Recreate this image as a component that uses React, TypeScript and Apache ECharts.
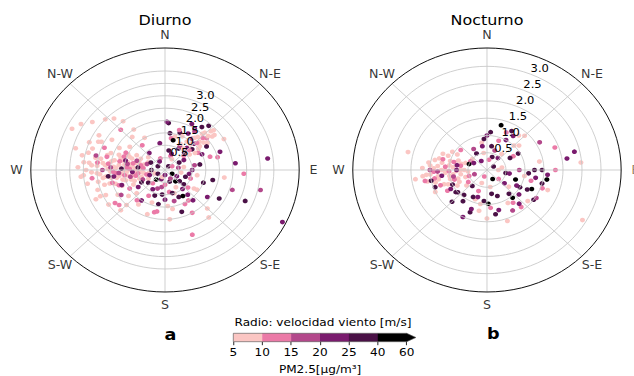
import React, { useEffect, useRef } from 'react';
import * as echarts from 'echarts';

const DIRECTIONS = ['N', 'N-E', 'E', 'S-E', 'S', 'S-W', 'W', 'N-W'];
const DIRECTION_DEG = [0, 45, 90, 135, 180, 225, 270, 315];
const RADIUS_TICK_LABELS = ['0.5', '1.0', '1.5', '2.0', '2.5', '3.0'];
const PM_BOUNDS = [5, 10, 15, 20, 25, 40, 60];
const PM_COLORS = ['#fbc6c3', '#eb7aa7', '#b3488b', '#7a1b6e', '#4a1146', '#000000'];
const PANEL_TITLES = ['Diurno', 'Nocturno'];
const PANEL_LETTERS = ['a', 'b'];
const CB_TITLE = 'Radio: velocidad viento [m/s]';
const CB_LABEL = 'PM2.5[μg/m³]';

// [wind speed m/s, direction deg (from N, clockwise), PM2.5 µg/m3]
const diurnoPoints: number[][] = [
  [3.2, 272, 7], [3.0, 266, 6], [3.1, 281, 8], [2.9, 259, 7], [2.8, 288, 6], [2.7, 274, 9],
  [2.6, 252, 7], [2.6, 296, 8], [2.5, 267, 6], [2.4, 281, 7], [2.4, 245, 8], [2.3, 262, 9],
  [2.3, 302, 7], [2.2, 275, 6], [2.1, 289, 8], [2.1, 255, 7], [2.0, 268, 9], [2.0, 240, 7],
  [1.9, 282, 6], [1.9, 298, 8], [1.8, 260, 7], [1.8, 273, 9], [1.7, 248, 6], [1.7, 287, 7],
  [1.6, 265, 8], [1.6, 306, 7], [1.5, 278, 6], [1.5, 254, 9], [1.4, 292, 7], [1.4, 268, 8],
  [1.3, 243, 7], [1.3, 280, 6], [1.2, 260, 8], [1.2, 300, 7], [1.1, 272, 9], [1.0, 250, 7],
  [1.0, 288, 6], [0.9, 265, 8], [0.8, 310, 7], [0.7, 240, 9],
  [2.9, 270, 6], [2.8, 276, 8], [2.7, 268, 7], [2.6, 281, 6], [2.5, 259, 8], [2.5, 274, 7],
  [2.4, 266, 9], [2.3, 277, 6], [2.3, 255, 8], [2.2, 263, 7], [2.2, 286, 8], [2.1, 271, 6],
  [2.0, 280, 7], [2.0, 261, 8], [1.9, 274, 7], [1.9, 253, 6], [1.8, 290, 8], [1.8, 266, 7],
  [1.7, 277, 6], [1.7, 262, 8], [1.6, 284, 9], [1.6, 256, 7], [1.5, 270, 8], [1.5, 295, 6],
  [1.4, 261, 7], [1.4, 283, 8], [1.3, 253, 6], [1.3, 291, 9], [1.2, 277, 7], [1.2, 249, 8],
  [1.1, 285, 6], [1.1, 264, 7], [1.0, 297, 8], [1.0, 268, 6], [0.9, 252, 7], [0.9, 276, 9],
  [0.8, 286, 7], [0.8, 262, 8], [0.7, 296, 6], [0.6, 258, 7],
  [3.0, 276, 8], [2.9, 284, 7], [3.1, 265, 9], [2.7, 295, 7], [2.6, 246, 6], [2.8, 300, 8],
  [2.7, 263, 12], [2.2, 284, 13], [2.0, 255, 11], [1.8, 266, 14], [1.6, 290, 12], [1.5, 240, 13],
  [1.3, 272, 11], [1.1, 258, 12], [0.9, 282, 14], [2.4, 292, 11],
  [2.1, 277, 12], [1.9, 268, 13], [1.7, 282, 11], [1.5, 262, 14], [1.4, 274, 12], [1.2, 283, 13],
  [1.0, 262, 11], [0.8, 275, 14], [0.7, 255, 12], [2.5, 277, 13], [1.8, 250, 12], [1.6, 296, 11],
  [2.3, 270, 18], [1.9, 262, 22], [1.4, 280, 17], [1.7, 249, 21], [2.6, 283, 19], [1.2, 266, 23],
  [2.0, 273, 17], [1.7, 266, 18], [1.3, 258, 19], [1.1, 290, 16], [0.9, 245, 18], [1.5, 285, 21],
  [1.6, 272, 30], [2.1, 263, 28], [1.0, 276, 33],
  [3.8, 296, 7], [3.6, 301, 8], [3.0, 313, 7], [3.0, 292, 6], [2.8, 318, 8], [2.5, 322, 7],
  [2.3, 315, 12], [2.0, 325, 7], [1.8, 318, 9], [1.5, 330, 7], [3.4, 285, 7], [3.3, 306, 9],
  [1.3, 320, 12],
  [2.8, 245, 7], [2.5, 236, 8], [2.2, 230, 12], [2.0, 225, 7], [1.7, 232, 9], [1.6, 220, 13],
  [1.4, 228, 7], [2.3, 225, 8], [1.9, 238, 18], [1.2, 235, 22],
  [0.2, 40, 30], [0.3, 120, 45], [0.4, 200, 22], [0.3, 300, 28], [0.5, 80, 18], [0.5, 160, 30],
  [0.6, 250, 22], [0.6, 20, 13], [0.7, 130, 28], [0.7, 190, 16], [0.8, 60, 22], [0.8, 230, 30],
  [0.9, 100, 24], [0.9, 170, 12], [1.0, 140, 20], [1.0, 30, 33], [1.1, 200, 27], [1.1, 80, 16],
  [1.2, 155, 30], [0.4, 250, 8], [0.5, 340, 13], [0.6, 100, 7], [0.7, 290, 18], [0.8, 150, 7],
  [0.9, 210, 22], [1.0, 110, 12], [1.2, 180, 22], [0.3, 200, 7], [0.6, 60, 30], [0.9, 320, 24],
  [1.0, 240, 35], [1.3, 125, 7], [1.3, 165, 18], [1.4, 190, 28], [1.1, 350, 22], [0.8, 10, 30],
  [0.5, 220, 45], [1.5, 145, 12], [1.6, 170, 7], [1.5, 110, 30],
  [0.3, 60, 12], [0.4, 150, 18], [0.5, 30, 7], [0.5, 120, 22], [0.6, 180, 12], [0.6, 300, 30],
  [0.7, 80, 8], [0.7, 220, 13], [0.8, 110, 28], [0.8, 200, 17], [0.9, 50, 12], [0.9, 130, 30],
  [1.0, 160, 8], [1.0, 90, 22], [1.1, 130, 13], [1.1, 30, 18], [1.2, 100, 7], [1.2, 210, 12],
  [1.3, 140, 22], [1.3, 80, 30], [0.4, 330, 22], [0.5, 270, 28], [0.3, 240, 33], [0.6, 140, 45],
  [0.7, 20, 24], [0.2, 180, 22],
  [2.3, 47, 7], [2.2, 52, 8], [2.1, 44, 7], [2.0, 50, 12], [1.9, 55, 7], [1.8, 42, 9],
  [1.8, 58, 30], [1.7, 48, 7], [1.6, 38, 18], [1.6, 53, 8], [1.5, 45, 22], [1.4, 35, 7],
  [1.4, 60, 13], [1.3, 50, 28], [1.2, 28, 7], [1.2, 42, 20], [1.1, 55, 9], [1.0, 45, 30],
  [2.3, 52, 8], [2.1, 49, 7], [2.0, 43, 9], [1.9, 47, 13], [1.8, 52, 7], [1.7, 40, 8],
  [1.6, 47, 12], [1.5, 55, 7], [1.4, 42, 9], [1.3, 58, 7], [1.2, 48, 13], [1.1, 38, 7],
  [1.9, 35, 18], [1.7, 30, 22], [1.6, 20, 28], [1.4, 15, 7], [1.3, 10, 12], [2.1, 28, 22],
  [2.4, 42, 30], [1.5, 65, 22],
  [1.9, 4, 30], [1.95, 2, 22], [1.5, 7, 33], [1.24, 14, 45], [1.7, 18, 12], [1.5, 25, 7],
  [2.0, 33, 24], [2.2, 38, 28],
  [2.6, 84, 22], [1.74, 72, 12], [1.8, 103, 30], [3.8, 83, 22], [4.8, 116, 20], [3.6, 103, 19],
  [3.2, 113, 30], [2.6, 108, 18], [2.15, 70, 24], [2.9, 93, 12], [2.8, 159, 12], [1.24, 148, 45],
  [1.75, 193, 12], [1.46, 176, 8], [1.56, 152, 10], [1.42, 124, 8], [1.0, 186, 30], [0.97, 164, 28],
  [2.27, 234, 12], [2.2, 98, 8], [2.5, 60, 8], [2.0, 75, 13], [2.4, 48, 7], [1.9, 125, 22],
  [2.2, 135, 7], [1.7, 215, 8],
  [1.6, 140, 22], [1.8, 160, 30], [2.0, 150, 12], [1.4, 200, 8], [1.7, 190, 13], [2.0, 175, 7],
  [1.5, 215, 22], [1.9, 200, 7], [2.3, 120, 28], [2.5, 140, 8],
];

const nocturnoPoints: number[][] = [
  [1.6, 265, 7], [1.5, 275, 6], [1.4, 255, 8], [1.3, 285, 7], [1.3, 262, 9], [1.2, 270, 6],
  [1.1, 248, 7], [1.1, 292, 8], [1.0, 260, 7], [1.0, 278, 9], [0.9, 240, 6], [0.9, 300, 7],
  [0.8, 268, 8], [0.8, 252, 7], [0.7, 285, 6], [0.7, 230, 8], [0.6, 270, 7], [0.5, 310, 9],
  [1.7, 272, 8], [1.5, 245, 7], [2.14, 284, 7], [1.9, 262, 8],
  [1.5, 265, 8], [1.4, 272, 7], [1.4, 282, 6], [1.3, 258, 8], [1.3, 275, 7], [1.2, 250, 9],
  [1.2, 280, 6], [1.1, 266, 7], [1.1, 270, 8], [1.0, 255, 6], [1.0, 285, 7], [0.9, 262, 8],
  [0.9, 275, 7], [0.8, 245, 6], [0.8, 290, 9], [0.7, 260, 7], [0.7, 270, 8], [0.6, 250, 6],
  [0.6, 290, 7], [0.5, 265, 8], [1.6, 258, 7], [1.7, 264, 6], [1.55, 278, 8], [1.25, 292, 7],
  [1.05, 300, 8],
  [1.66, 259, 12], [1.4, 268, 13], [1.2, 240, 11], [0.9, 285, 14], [1.3, 250, 12],
  [1.4, 260, 12], [1.1, 275, 13], [0.9, 252, 11], [0.7, 280, 14], [1.2, 285, 12], [1.0, 268, 11],
  [0.6, 235, 13], [0.5, 300, 12],
  [1.3, 268, 17], [0.9, 258, 19], [1.1, 240, 22], [0.8, 270, 24], [1.5, 270, 18],
  [1.2, 262, 22], [1.0, 245, 30], [1.45, 250, 25], [0.8, 280, 20], [1.5, 258, 35],
  [0.2, 60, 30], [0.3, 150, 45], [0.3, 330, 22], [0.4, 20, 28], [0.4, 200, 7], [0.5, 100, 30],
  [0.5, 250, 13], [0.6, 130, 22], [0.6, 40, 8], [0.7, 170, 30], [0.7, 330, 18], [0.8, 110, 45],
  [0.8, 60, 12], [0.9, 140, 28], [0.9, 200, 8], [1.0, 120, 30], [1.0, 30, 22], [1.1, 150, 7],
  [1.1, 95, 35], [0.5, 290, 45], [0.6, 220, 28], [0.4, 80, 7], [0.7, 10, 30], [0.8, 350, 8],
  [0.9, 310, 12],
  [0.2, 200, 12], [0.3, 90, 8], [0.35, 250, 18], [0.4, 130, 12], [0.45, 40, 22], [0.5, 170, 8],
  [0.55, 330, 30], [0.6, 100, 22], [0.65, 200, 13], [0.7, 60, 28], [0.75, 130, 8], [0.8, 160, 35],
  [0.85, 90, 18], [0.9, 120, 22], [0.95, 60, 30], [1.0, 100, 8], [1.05, 140, 45], [1.1, 130, 24],
  [1.2, 105, 12], [1.25, 90, 30], [0.3, 10, 12], [0.5, 350, 7], [0.6, 20, 18], [0.4, 300, 24],
  [0.7, 350, 22],
  [1.35, 16, 45], [1.1, 5, 28], [1.2, 25, 12], [1.3, 40, 7], [1.1, 50, 8], [1.0, 0, 22],
  [1.4, 45, 9], [0.9, 355, 30], [1.2, 35, 22], [1.0, 45, 7], [0.9, 20, 12], [1.3, 30, 30],
  [1.5, 105, 30], [1.3, 115, 45], [1.6, 95, 22], [1.4, 80, 7], [1.8, 90, 12], [1.7, 110, 8],
  [1.5, 125, 28], [2.36, 77, 20], [2.48, 85, 8], [2.13, 81, 24], [1.9, 70, 12], [1.6, 60, 18],
  [1.3, 100, 22], [1.45, 90, 30], [1.2, 118, 28], [1.55, 110, 12], [1.4, 130, 8], [1.6, 100, 45],
  [2.9, 120, 7], [1.57, 160, 7], [0.98, 178, 45], [1.2, 165, 22], [1.3, 200, 28], [1.1, 215, 30],
  [1.4, 140, 12], [1.2, 190, 8], [1.35, 150, 18], [1.5, 205, 22], [1.0, 230, 26], [1.3, 225, 30],
  [0.86, 205, 28], [0.94, 220, 30], [1.04, 232, 35], [0.82, 197, 24], [1.29, 139, 20], [1.53, 122, 18],
  [1.17, 144, 12], [1.1, 175, 12], [1.0, 190, 8], [1.2, 200, 22], [0.9, 185, 30], [1.4, 180, 7],
  [1.3, 170, 28],
];

const STRETCH = 1.1;
const W = 634 / STRETCH;
const H = 376;
const R = 122;
const CY = 170;
const LABEL_GAP = 1.107;
const FONT = 'DejaVu Sans';

const PANELS = [
  { cx: 150, rmax: 4.93, ringMax: 4.0, data: diurnoPoints, titleY: 20, letterX: 155, letterY: 334 },
  { cx: 442.7, rmax: 3.53, ringMax: 3.0, data: nocturnoPoints, titleY: 20, letterX: 448.5, letterY: 333 },
];

const CB_LEFT = 212.1;
const CB_RIGHT = 369.7;
const CB_TOP = 333.3;
const CB_H = 8.4;
const CB_EXT = 0.32;

function buildOption() {
  const polar: any[] = [];
  const angleAxis: any[] = [];
  const radiusAxis: any[] = [];
  const series: any[] = [];
  const graphic: any[] = [];

  PANELS.forEach((p, k) => {
    polar.push({ center: [p.cx, CY], radius: R });
    polar.push({ center: [p.cx, CY], radius: (R * p.ringMax) / p.rmax });
    angleAxis.push({
      polarIndex: 2 * k, type: 'value', min: 0, max: 360, interval: 45, startAngle: 90, clockwise: true,
      axisLine: { show: true, lineStyle: { color: '#000', width: 0.9 } },
      axisTick: { show: false }, axisLabel: { show: false },
      splitLine: { show: true, lineStyle: { color: '#c6c6c6', width: 0.8 } },
      z: 3,
    });
    angleAxis.push({
      polarIndex: 2 * k + 1, type: 'value', min: 0, max: 360, startAngle: 67.5, clockwise: true,
      axisLine: { show: false }, axisTick: { show: false }, axisLabel: { show: false }, splitLine: { show: false },
    });
    radiusAxis.push({
      polarIndex: 2 * k, type: 'value', min: 0, max: p.rmax,
      axisLine: { show: false }, axisTick: { show: false }, axisLabel: { show: false }, splitLine: { show: false },
    });
    radiusAxis.push({
      polarIndex: 2 * k + 1, type: 'value', min: 0, max: p.ringMax, interval: 0.5,
      axisLine: { show: false }, axisTick: { show: false },
      splitLine: { show: true, lineStyle: { color: '#c6c6c6', width: 0.8 } },
      axisLabel: {
        show: true, margin: 0, align: 'left', verticalAlign: 'bottom',
        fontSize: 10.5, color: '#000', fontFamily: FONT,
        formatter: (v: number) => RADIUS_TICK_LABELS[Math.round(v / 0.5) - 1] ?? '',
      },
      z: 3,
    });
  });

  PANELS.forEach((p, k) => {
    series.push({
      type: 'scatter', coordinateSystem: 'polar', polarIndex: 2 * k,
      data: p.data, symbolSize: 4.6, clip: false, itemStyle: { opacity: 1 }, z: 2,
    });
  });
  PANELS.forEach((p, k) => {
    series.push({
      type: 'scatter', coordinateSystem: 'polar', polarIndex: 2 * k, symbolSize: 0, clip: false, silent: true,
      data: DIRECTION_DEG.map((d, i) => ({ value: [p.rmax * LABEL_GAP, d], name: DIRECTIONS[i] })),
      label: { show: true, position: 'inside', formatter: '{b}', color: '#000', fontSize: 11.5, fontFamily: FONT },
    });
    graphic.push({
      type: 'text', x: p.cx, y: p.titleY,
      style: { text: PANEL_TITLES[k], x: 0, y: 0, fill: '#000', font: `14.5px "${FONT}"`, align: 'center', verticalAlign: 'middle', textAlign: 'center', textVerticalAlign: 'middle' },
    });
    graphic.push({
      type: 'text', x: p.letterX, y: p.letterY,
      style: { text: PANEL_LETTERS[k], x: 0, y: 0, fill: '#000', font: `bold 16px "${FONT}"`, align: 'center', verticalAlign: 'middle', textAlign: 'center', textVerticalAlign: 'middle' },
    });
  });

  // colorbar
  const cbData = PM_COLORS.map((_, i) => [i, i + 1]);
  cbData.push([PM_COLORS.length, PM_COLORS.length + CB_EXT]);
  series.push({
    type: 'custom', coordinateSystem: 'cartesian2d', xAxisIndex: 0, yAxisIndex: 0, clip: false, silent: true,
    data: cbData,
    renderItem: (params: any, api: any) => {
      const i = params.dataIndex;
      const a = api.coord([api.value(0), 0]);
      const b = api.coord([api.value(1), 1]);
      if (i < PM_COLORS.length) {
        return { type: 'rect', shape: { x: a[0], y: b[1], width: b[0] - a[0] + 0.3, height: a[1] - b[1] }, style: { fill: PM_COLORS[i] } };
      }
      return { type: 'polygon', shape: { points: [[a[0], a[1]], [a[0], b[1]], [b[0], (a[1] + b[1]) / 2]] }, style: { fill: PM_COLORS[PM_COLORS.length - 1] } };
    },
  });
  series.push({
    type: 'custom', coordinateSystem: 'cartesian2d', xAxisIndex: 0, yAxisIndex: 0, clip: false, silent: true,
    data: [[0, PM_COLORS.length, PM_COLORS.length + CB_EXT]],
    renderItem: (params: any, api: any) => {
      const a = api.coord([api.value(0), 0]);
      const b = api.coord([api.value(1), 1]);
      const t = api.coord([api.value(2), 0.5]);
      return {
        type: 'polygon',
        shape: { points: [[a[0], a[1]], [a[0], b[1]], [b[0], b[1]], [t[0], t[1]], [b[0], a[1]]] },
        style: { fill: 'none', stroke: '#555', lineWidth: 0.6 },
      };
    },
  });

  graphic.push({
    type: 'text', x: 293.6, y: 321.7,
    style: { text: CB_TITLE, x: 0, y: 0, fill: '#000', font: `11px "${FONT}"`, align: 'center', verticalAlign: 'middle', textAlign: 'center', textVerticalAlign: 'middle' },
  });
  graphic.push({
    type: 'text', x: 291, y: 369,
    style: { text: CB_LABEL, x: 0, y: 0, fill: '#000', font: `11px "${FONT}"`, align: 'center', verticalAlign: 'middle', textAlign: 'center', textVerticalAlign: 'middle' },
  });

  return {
    animation: false,
    backgroundColor: '#fff',
    textStyle: { fontFamily: FONT },
    polar,
    angleAxis,
    radiusAxis,
    grid: [{ left: CB_LEFT, top: CB_TOP, width: CB_RIGHT - CB_LEFT, height: CB_H, containLabel: false }],
    xAxis: [{
      gridIndex: 0, type: 'value', min: 0, max: PM_COLORS.length, interval: 1,
      axisLine: { show: false }, splitLine: { show: false },
      axisTick: { show: true, length: 3.5, lineStyle: { color: '#000', width: 0.8 } },
      axisLabel: { margin: 4.5, fontSize: 11, color: '#000', fontFamily: FONT, formatter: (v: number) => String(PM_BOUNDS[Math.round(v)]) },
    }],
    yAxis: [{ gridIndex: 0, type: 'value', min: 0, max: 1, show: false }],
    visualMap: {
      type: 'piecewise', show: false, seriesIndex: [0, 1], dimension: 2,
      pieces: PM_COLORS.map((c, i) => {
        if (i === 0) return { lt: PM_BOUNDS[1], color: c };
        if (i === PM_COLORS.length - 1) return { gte: PM_BOUNDS[i], color: c };
        return { gte: PM_BOUNDS[i], lt: PM_BOUNDS[i + 1], color: c };
      }),
    },
    series,
    graphic,
  };
}

export default function App() {
  const ref = useRef<HTMLDivElement>(null);
  useEffect(() => {
    if (!ref.current) return;
    const chart = echarts.init(ref.current, undefined, { renderer: 'svg' });
    chart.setOption(buildOption() as any);
    return () => chart.dispose();
  }, []);
  return (
    <div style={{ position: 'fixed', left: 0, top: 0, width: 634, height: H, overflow: 'hidden', background: '#fff' }}>
      <div ref={ref} style={{ width: W, height: H, transform: `scaleX(${STRETCH})`, transformOrigin: '0 0' }} />
    </div>
  );
}
